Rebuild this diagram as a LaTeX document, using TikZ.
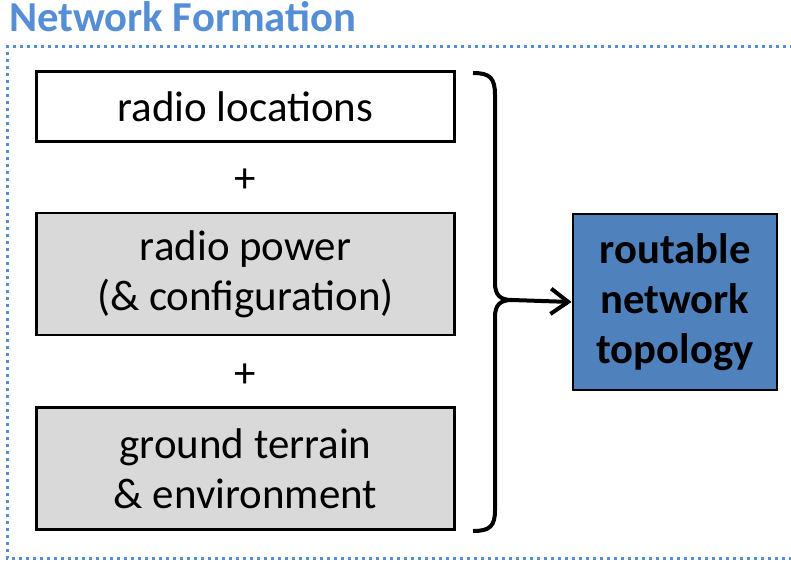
\documentclass[tikz,border=0pt]{standalone}
\usepackage{fontspec}
\setmainfont{Carlito}
\usetikzlibrary{arrows.meta}
\definecolor{titleblue}{HTML}{558ED5}
\definecolor{boxgray}{HTML}{D9D9D9}
\definecolor{topoblue}{HTML}{4F81BD}
\begin{document}
\begin{tikzpicture}[x=0.75pt, y=-0.75pt,
  font=\fontsize{32.2}{37.5}\selectfont,
  factor/.style={draw, line width=2.2pt, minimum width=314pt, align=center, inner sep=0pt},
  result/.style={draw, line width=2.2pt, fill=topoblue, minimum width=153pt, minimum height=132pt, align=center, font=\fontsize{32}{37.5}\selectfont\bfseries}]
\useasboundingbox (0,0) rectangle (791,563);
\node[anchor=base west, inner sep=0pt, text=titleblue, font=\fontsize{32}{38}\selectfont\bfseries] (title) at (9,31.5) {Network Formation};
\draw[titleblue, line width=2.25pt, dash pattern=on 2.25pt off 3pt] (800,47) -- (7,47) -- (7,558) -- (800,558);

\node[factor, fill=white, minimum height=52pt] (loc) at (245.5,106.5) {radio locations};
\node (plus1) at (245.5,181) {+};
\node[factor, fill=boxgray, minimum height=91.5pt] (pow) at (245.5,274) {radio power\\(\& configuration)};
\node (plus2) at (245.5,376) {+};
\node[factor, fill=boxgray, minimum height=92pt] (env) at (245.5,468.5) {ground terrain\\\& environment};
\node[result] (topo) at (675,302) {routable\\network\\topology};

\coordinate (tip) at (512,300);
\draw[line width=3pt] (473,73) .. controls (490,73) and (495,78) .. (495,95) -- (495,283)
  .. controls (495,295) and (500,300) .. (tip)
  .. controls (500,300) and (495,305) .. (495,317) -- (495,510)
  .. controls (495,526) and (490,531) .. (473,531);
\draw[line width=3pt, -{Straight Barb[length=13pt, width=19pt]}] (tip) -- (topo.west);
\end{tikzpicture}
\end{document}
